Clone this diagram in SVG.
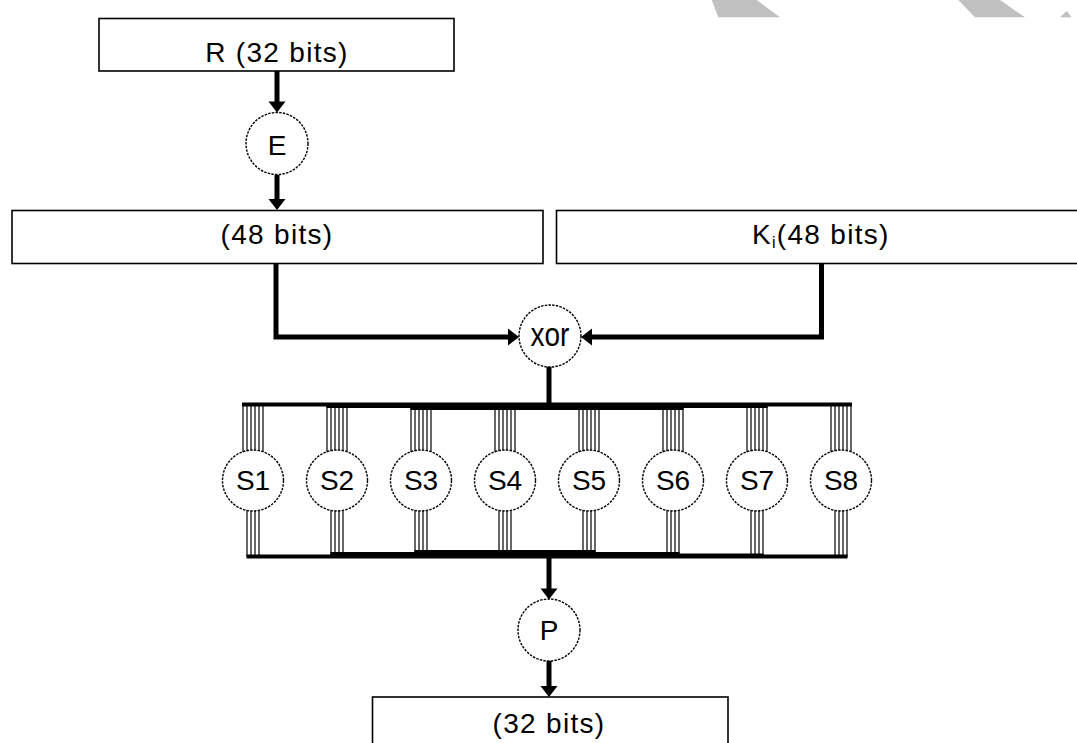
<svg xmlns="http://www.w3.org/2000/svg" xmlns:xlink="http://www.w3.org/1999/xlink" width="1077" height="743" viewBox="0 0 1077 743">
<defs>
<style>
.box{fill:#fff;stroke:#000;stroke-width:1.6}
.op{fill:#fff;stroke:#000;stroke-width:1.4;stroke-dasharray:2.5 1.2}
.t{font-family:"Liberation Sans",Arial,sans-serif;font-size:28px;fill:#000;text-anchor:middle}
.ls{letter-spacing:1.3px}
.w{stroke:#000;stroke-width:5;fill:none;stroke-linejoin:miter}
.bit{stroke:#000;stroke-width:1.2}
.bar{fill:#000}
.wm{fill:#c0c0c0}
</style>
<path id="ah" d="M0,0 L-8.5,-11 L8.5,-11 Z" fill="#000"/>
<g id="b6" class="bit">
<line x1="-10" y1="0" x2="-10" y2="54"/><line x1="-6" y1="0" x2="-6" y2="54"/><line x1="-2" y1="0" x2="-2" y2="54"/>
<line x1="2" y1="0" x2="2" y2="54"/><line x1="6" y1="0" x2="6" y2="54"/><line x1="10" y1="0" x2="10" y2="54"/>
</g>
<g id="b4" class="bit">
<line x1="-6" y1="0" x2="-6" y2="54"/><line x1="-2" y1="0" x2="-2" y2="54"/>
<line x1="2" y1="0" x2="2" y2="54"/><line x1="6" y1="0" x2="6" y2="54"/>
</g>
</defs>
<rect width="1077" height="743" fill="#fff"/>
<g id="watermark">
<polygon class="wm" points="711.7,0 756.7,0 780,17.3 718.3,17.3"/>
<polygon class="wm" points="958.3,0 1000,0 1025,17.3 975,17.3"/>
<polygon class="wm" points="1060,17.3 1066.7,11 1071.7,17.3"/>
</g>
<g id="connectors">
<path class="w" d="M277,71 V102"/>
<use xlink:href="#ah" transform="translate(277,112.5)"/>
<path class="w" d="M277,175 V200"/>
<use xlink:href="#ah" transform="translate(277,210)"/>
<path class="w" d="M276,263.5 V337 H509"/>
<use xlink:href="#ah" transform="translate(519,337) rotate(-90)"/>
<path class="w" d="M821.5,263.5 V337 H591"/>
<use xlink:href="#ah" transform="translate(581,337) rotate(90)"/>
<path class="w" d="M549,366 V404"/>
<polygon class="bar" points="242,402.5 852,402.5 852,406.5 767.5,406.5 767.5,408 683.5,408 683.5,410 410.5,410 410.5,408 326.5,408 326.5,406.5 242,406.5"/>
<use xlink:href="#b6" transform="translate(253,404)"/>
<use xlink:href="#b6" transform="translate(337,404)"/>
<use xlink:href="#b6" transform="translate(421,404)"/>
<use xlink:href="#b6" transform="translate(505,404)"/>
<use xlink:href="#b6" transform="translate(589,404)"/>
<use xlink:href="#b6" transform="translate(673,404)"/>
<use xlink:href="#b6" transform="translate(757,404)"/>
<use xlink:href="#b6" transform="translate(841,404)"/>
<use xlink:href="#b4" transform="translate(253,503)"/>
<use xlink:href="#b4" transform="translate(337,503)"/>
<use xlink:href="#b4" transform="translate(421,503)"/>
<use xlink:href="#b4" transform="translate(505,503)"/>
<use xlink:href="#b4" transform="translate(589,503)"/>
<use xlink:href="#b4" transform="translate(673,503)"/>
<use xlink:href="#b4" transform="translate(757,503)"/>
<use xlink:href="#b4" transform="translate(841,503)"/>
<polygon class="bar" points="246.5,558.5 847.5,558.5 847.5,554.5 763.5,554.5 763.5,553.5 679.5,553.5 679.5,552 595.5,552 595.5,550 414.5,550 414.5,552 330.5,552 330.5,554.5 246.5,554.5"/>
<path class="w" d="M549,558 V589"/>
<use xlink:href="#ah" transform="translate(549,599.5)"/>
<path class="w" d="M549,661 V687"/>
<use xlink:href="#ah" transform="translate(549,697)"/>
</g>
<g id="r32">
<rect class="box" x="99" y="18.5" width="355" height="52.5"/>
<text class="t ls" x="277" y="62">R (32 bits)</text>
</g>
<g id="e">
<circle class="op" cx="277" cy="143.5" r="31"/>
<text class="t" x="277" y="154.5">E</text>
</g>
<g id="b48">
<rect class="box" x="12" y="210.5" width="531" height="53"/>
<text class="t ls" x="277" y="244">(48 bits)</text>
</g>
<g id="ki">
<rect class="box" x="556.5" y="210.5" width="540" height="53"/>
<text class="t ls" x="752" y="244" style="text-anchor:start">K<tspan font-size="16" dy="4">i</tspan><tspan dy="-4">(48 bits)</tspan></text>
</g>
<g id="xor">
<circle class="op" cx="550" cy="336" r="31"/>
<text class="t" transform="translate(550,346) scale(1,1.2)">xor</text>
</g>
<g id="s1"><circle class="op" cx="253" cy="480.5" r="30.5"/><text class="t" x="253" y="490">S1</text></g>
<g id="s2"><circle class="op" cx="337" cy="480.5" r="30.5"/><text class="t" x="337" y="490">S2</text></g>
<g id="s3"><circle class="op" cx="421" cy="480.5" r="30.5"/><text class="t" x="421" y="490">S3</text></g>
<g id="s4"><circle class="op" cx="505" cy="480.5" r="30.5"/><text class="t" x="505" y="490">S4</text></g>
<g id="s5"><circle class="op" cx="589" cy="480.5" r="30.5"/><text class="t" x="589" y="490">S5</text></g>
<g id="s6"><circle class="op" cx="673" cy="480.5" r="30.5"/><text class="t" x="673" y="490">S6</text></g>
<g id="s7"><circle class="op" cx="757" cy="480.5" r="30.5"/><text class="t" x="757" y="490">S7</text></g>
<g id="s8"><circle class="op" cx="841" cy="480.5" r="30.5"/><text class="t" x="841" y="490">S8</text></g>
<g id="p">
<circle class="op" cx="549" cy="630" r="31"/>
<text class="t" x="549" y="640">P</text>
</g>
<g id="b32">
<rect class="box" x="372.5" y="697" width="355.5" height="60"/>
<text class="t ls" x="549" y="733">(32 bits)</text>
</g>
</svg>
